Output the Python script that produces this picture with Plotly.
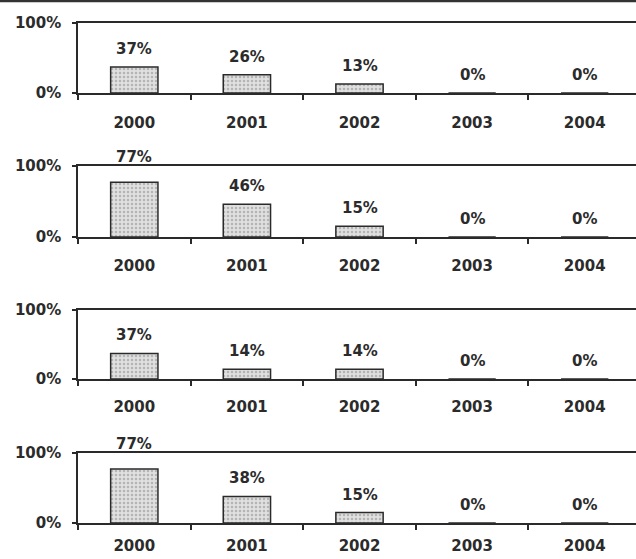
import plotly.graph_objects as go

years = ["2000", "2001", "2002", "2003", "2004"]
panel1 = [0.37, 0.26, 0.13, 0.0, 0.0]
panel2 = [0.77, 0.46, 0.15, 0.0, 0.0]
panel3 = [0.37, 0.14, 0.14, 0.0, 0.0]
panel4 = [0.77, 0.38, 0.15, 0.0, 0.0]
panels = [panel1, panel2, panel3, panel4]
y_ticks = [0, 1]
y_ticktext = ["0%", "100%"]

W, H = 636, 559
# pixel rows of (100% line, 0% line) for each panel
rows_px = [(23, 93), (166, 237), (310, 379), (453, 523)]
label_gap = [15, 14, 13, 8]
left_px = 78
cat_w = 112.6

FONT = "DejaVu Sans"
TXT = "#2b2b2b"
LINE = "#2a2a2a"

fig = go.Figure()
span = (W - left_px) / cat_w
for i, vals in enumerate(panels):
    n = i + 1
    xa = "x" if n == 1 else f"x{n}"
    ya = "y" if n == 1 else f"y{n}"
    fig.add_trace(go.Bar(
        x=years, y=vals, xaxis=xa, yaxis=ya, width=0.42,
        marker=dict(color="#dcdcdc", line=dict(color=LINE, width=1.5),
                    pattern=dict(shape=".", fgcolor="#b4b4b4", bgcolor="#e0e0e0",
                                 size=4, solidity=0.3, fillmode="replace")),
        showlegend=False, hoverinfo="skip"))
    for k, v in enumerate(vals):
        fig.add_annotation(x=k, y=v, xref=xa, yref=ya,
                           text=f"{round(v*100)}%", showarrow=False,
                           yanchor="middle", yshift=25 if v > 0.6 else 18,
                           font=dict(family=FONT, size=15, color=TXT, weight="bold"))
    top, bot = rows_px[i]
    dom_y = [1 - bot / H, 1 - top / H]
    xkey = "xaxis" if n == 1 else f"xaxis{n}"
    ykey = "yaxis" if n == 1 else f"yaxis{n}"
    fig.layout[xkey] = dict(
        domain=[left_px / W, 1], anchor=ya, type="category", automargin=False,
        range=[-0.5, -0.5 + span], tickson="boundaries",
        ticks="outside", ticklen=5, tickwidth=1.5, tickcolor=LINE,
        showline=True, mirror=True, linecolor=LINE, linewidth=1.5, showgrid=False,
        ticklabelstandoff=label_gap[i],
        tickfont=dict(family=FONT, size=15, color=TXT, weight="bold"))
    fig.layout[ykey] = dict(
        domain=dom_y, anchor=xa, range=[0, 1], automargin=False,
        tickmode="array", tickvals=y_ticks, ticktext=y_ticktext,
        ticks="outside", ticklen=4, tickwidth=1.5, tickcolor=LINE,
        showline=True, linecolor=LINE, linewidth=1.5,
        showgrid=False, zeroline=False,
        ticklabelstandoff=8,
        tickfont=dict(family=FONT, size=15, color=TXT, weight="bold"))

fig.add_shape(type="line", xref="paper", yref="paper", x0=0, x1=1, y0=1 - 1 / H, y1=1 - 1 / H,
              line=dict(color="#333333", width=2.5))

fig.update_layout(width=W, height=H, margin=dict(l=0, r=0, t=0, b=0, autoexpand=False),
                  paper_bgcolor="white", plot_bgcolor="white")
fig.write_html("out.html")
